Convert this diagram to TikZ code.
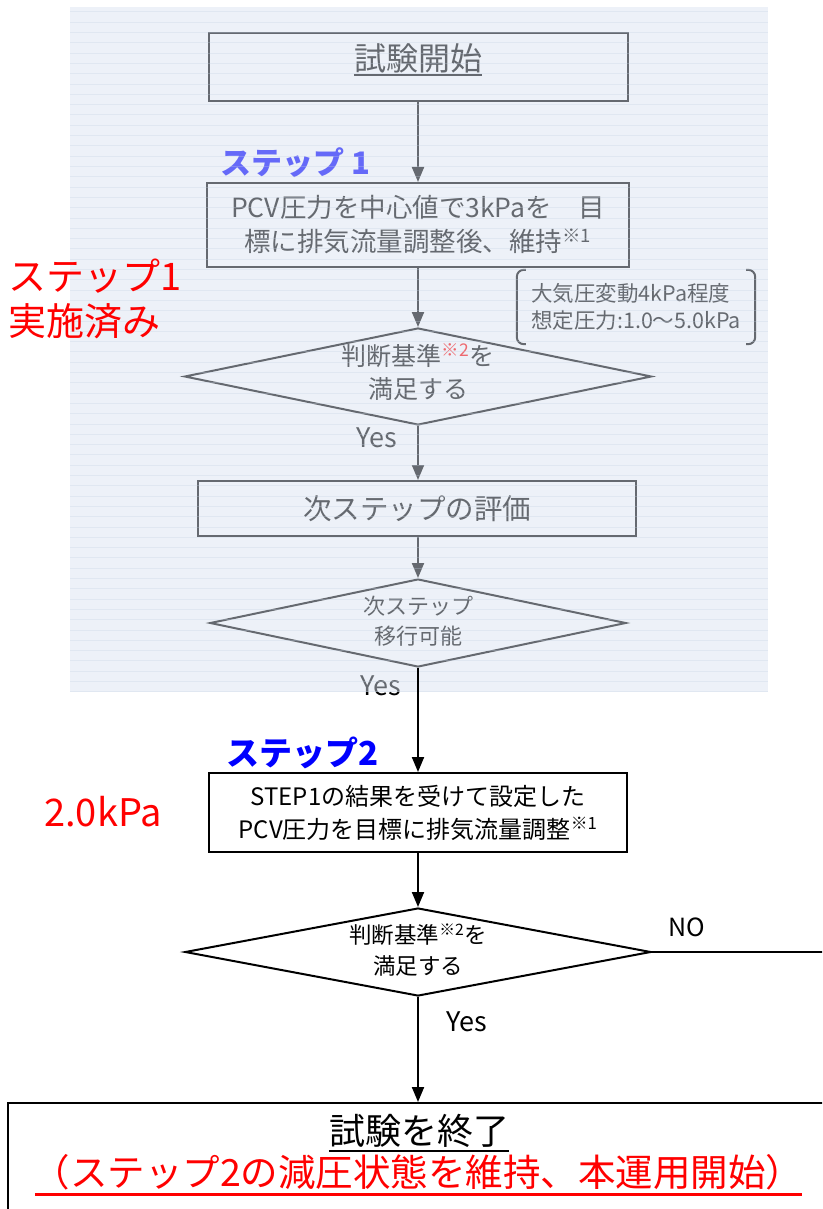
\documentclass[tikz,border=0pt]{standalone}
\usepackage{fontspec}
\setmainfont{Noto Sans CJK JP}
\usetikzlibrary{arrows.meta,shapes.geometric}
\definecolor{ovl}{RGB}{218,227,240}
\definecolor{stripe}{RGB}{196,208,226}
\definecolor{stepblue}{RGB}{0,0,255}
\begin{document}
\begin{tikzpicture}[x=1pt,y=-1pt,
  box/.style={draw, line width=2pt, rectangle, inner sep=0pt},
  dia/.style={draw, line width=2pt, diamond, inner sep=0pt},
  arr/.style={line width=2pt, -{Triangle[length=15pt,width=12pt]}},
  txt/.style={inner sep=0pt, align=center}]
\useasboundingbox (0,0) rectangle (822,1209);
\clip (0,0) rectangle (822,1209);
\fill[white] (0,0) rectangle (822,1209);

% ---------- upper part (later covered by overlay) ----------
\node[box, minimum width=419pt, minimum height=68pt] (b1) at (418,67) {};
\node[txt, font=\fontsize{32}{36}\selectfont] (t1) at (418,58) {試験開始};
\draw[line width=2pt] ([yshift=-5pt]t1.base west) -- ([yshift=-5pt]t1.base east);

\node[txt, font=\bfseries\fontsize{31}{34}\selectfont, text=stepblue] (s1) at (295,163) {ステップ 1};
\node[box, minimum width=422pt, minimum height=84pt, align=center,
      font=\fontsize{26.5}{34}\selectfont] (b2) at (418,225)
      {PCV圧力を中心値で3kPaを　目\\標に排気流量調整後、維持\textsuperscript{※1}};

\node[txt, align=left, font=\fontsize{21.5}{27}\selectfont,
      minimum width=238pt, minimum height=74pt] (ann) at (636,307)
      {大気圧変動4kPa程度\\想定圧力:1.0～5.0kPa};
\draw[line width=2pt, rounded corners=7pt] ([xshift=9pt]ann.north west) -- (ann.north west)
      -- (ann.south west) -- ([xshift=9pt]ann.south west);
\draw[line width=2pt, rounded corners=7pt] ([xshift=-9pt]ann.north east) -- (ann.north east)
      -- (ann.south east) -- ([xshift=-9pt]ann.south east);

\node[dia, minimum width=467pt, minimum height=97pt] (d1) at (418,376.5) {};
\node[txt, font=\fontsize{25}{33}\selectfont] (d1t) at (418,372)
      {判断基準\textsuperscript{\textcolor{red}{※2}}を\\満足する};
\node[txt, font=\fontsize{27}{30}\selectfont] (y1) at (377,438) {Yes};

\node[box, minimum width=438pt, minimum height=55pt,
      font=\fontsize{28.5}{32}\selectfont] (b3) at (417,508.5) {次ステップの評価};

\node[dia, minimum width=416pt, minimum height=88pt] (d2) at (418,623) {};
\node[txt, font=\fontsize{22}{30}\selectfont] (d2t) at (418,621) {次ステップ\\移行可能};
\node[txt, font=\fontsize{27}{30}\selectfont] (y2) at (381,686) {Yes};

\draw[arr] (b1.south) -- (b1.south |- b2.north);
\draw[arr] (b2.south) -- (d1.north);
\draw[arr] (d1.south) -- (d1.south |- b3.north);
\draw[arr] (d1.south |- b3.south) -- (d2.north);

% ---------- overlay ----------
\fill[ovl, fill opacity=0.467] (70,7) rectangle (768,692);
\foreach \i in {0,...,66}
  \draw[stripe, opacity=0.3, line width=1pt] (70,{12+\i*10.3}) -- (768,{12+\i*10.3});

% ---------- lower part ----------
\node[txt, font=\bfseries\fontsize{33}{36}\selectfont, text=stepblue] (s2) at (303,753) {ステップ2};
\node[box, minimum width=418pt, minimum height=79pt, align=center,
      font=\fontsize{24}{33}\selectfont] (b4) at (418,812.5)
      {STEP1の結果を受けて設定した\\PCV圧力を目標に排気流量調整\textsuperscript{※1}};
\draw[arr] (d2.south) -- (b4.north);

\node[dia, minimum width=466pt, minimum height=88pt] (d3) at (418,952) {};
\node[txt, font=\fontsize{22.5}{31}\selectfont] (d3t) at (418,950)
      {判断基準\textsuperscript{※2}を\\満足する};
\draw[arr] (b4.south) -- (d3.north);

\coordinate (noend) at (830,952);
\draw[line width=2pt] (d3.east) -- (noend);
\node[txt, font=\fontsize{25}{28}\selectfont] (no) at (687,927) {NO};
\node[txt, font=\fontsize{27}{30}\selectfont] (y3) at (467,1022) {Yes};

\node[box, minimum width=828pt, minimum height=127pt] (fin) at (422,1166.5) {};
\draw[arr] (d3.south) -- (d3.south |- fin.north);
\node[txt, font=\fontsize{36}{40}\selectfont] (t2) at (419,1131) {試験を終了};
\draw[line width=2pt] ([yshift=-6pt]t2.base west) -- ([yshift=-6pt]t2.base east);
\node[txt, font=\fontsize{37.5}{40}\selectfont, text=red] (t3) at (418,1172)
      {（ステップ2の減圧状態を維持、本運用開始）};
\draw[red, line width=2.5pt] ([xshift=3pt,yshift=-8pt]t3.base west) -- ([xshift=-2pt,yshift=-8pt]t3.base east);

% ---------- red annotations ----------
\node[txt, align=left, anchor=west, text=red, font=\fontsize{38}{45}\selectfont] (done) at (8,299)
      {ステップ1\\実施済み};
\node[txt, text=red, font=\fontsize{38}{40}\selectfont] (kpa) at (103,812) {2.0kPa};
\end{tikzpicture}
\end{document}
